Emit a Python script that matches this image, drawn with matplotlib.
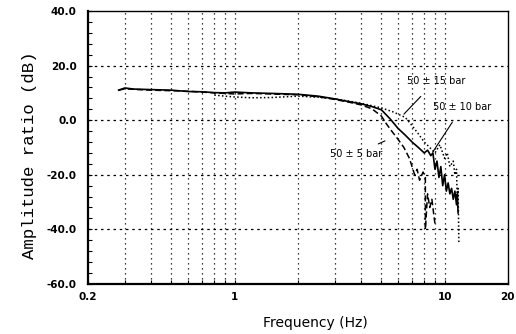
import matplotlib.pyplot as plt
from matplotlib.ticker import FixedLocator, MultipleLocator, NullFormatter, LogLocator
import numpy as np

# 数据
f_5 = [0.28, 0.3, 0.35, 0.4, 0.5, 0.6, 0.7, 0.8, 0.9, 1.0, 1.2, 1.5, 2.0, 2.5, 3.0, 3.5,
       4.0, 4.5, 5.0, 5.3, 5.6, 6.0, 6.4, 6.8, 7.0, 7.2, 7.4, 7.6, 7.9, 8.1, 8.1, 8.3, 8.5, 8.7, 9.0]
db_5 = [11.0, 11.5, 11.2, 11.0, 10.8, 10.6, 10.3, 10.0, 9.8, 9.6, 9.8, 9.6, 9.3, 8.6, 7.6, 6.6,
        5.6, 4.2, 1.5, -1.5, -4.0, -7.0, -10.0, -14.0, -17.0, -20.0, -18.0, -22.0, -19.0, -21.0, -40.0,
        -27.0, -32.0, -29.0, -38.0]

f_10 = [0.28, 0.3, 0.33, 0.4, 0.5, 0.6, 0.7, 0.8, 0.9, 1.0, 1.2, 1.5, 2.0, 2.5, 3.0, 3.5,
        4.0, 4.5, 5.0, 5.5, 6.0, 6.5, 7.0, 7.5, 8.0, 8.3, 8.6, 8.8, 9.0, 9.2, 9.4, 9.6, 9.8,
        10.0, 10.2, 10.4, 10.6, 10.8, 11.0, 11.2, 11.4, 11.5, 11.6]
db_10 = [11.0, 11.8, 11.4, 11.2, 11.0, 10.5, 10.4, 10.1, 10.0, 10.3, 10.0, 9.8, 9.5, 8.8, 7.8, 6.8,
         6.0, 5.0, 3.8, 0.5, -3.0, -5.5, -8.0, -10.0, -12.0, -11.0, -13.0, -12.0, -18.0, -15.0, -21.0, -17.0, -24.0,
         -20.0, -26.0, -23.0, -27.0, -25.0, -29.0, -26.0, -31.0, -27.0, -34.0]

f_15 = [0.8, 0.9, 1.0, 1.2, 1.5, 2.0, 2.5, 3.0, 3.5, 4.0, 5.0, 5.7, 6.5, 7.0, 7.5, 8.0,
        8.5, 9.0, 9.5, 10.0, 10.3, 10.6, 11.0, 11.2, 11.4, 11.5, 11.6, 11.7]
db_15 = [9.2, 8.8, 8.5, 8.2, 8.3, 8.8, 8.4, 7.8, 7.0, 6.2, 4.5, 3.0, 1.0, -2.0, -5.0, -8.0,
         -10.0, -12.0, -9.0, -14.0, -12.0, -17.0, -15.0, -20.0, -18.0, -30.0, -25.0, -45.0]

y_ticks = [40, 20, 0, -20, -40, -60]
y_ticklabels = ['40.0', '20.0', '0.0', '-20.0', '-40.0', '-60.0']
x_ticks = [0.2, 1, 10, 20]
x_ticklabels = ['0.2', '1', '10', '20']

fig = plt.figure(figsize=(5.16, 3.34), dpi=100)
ax = fig.add_axes([0.1705, 0.150, 0.8135, 0.817])

ax.set_xscale('log')
ax.set_xlim(0.2, 20)
ax.set_ylim(-60, 40)

# 网格
grid_x = [0.3, 0.4, 0.5, 0.6, 0.7, 0.8, 0.9, 1, 2, 3, 4, 5, 6, 7, 8, 9, 10]
for gx in grid_x:
    ax.axvline(gx, color='black', linestyle=(0, (1, 3)), linewidth=0.9, zorder=1)
for gy in [20, 0, -20, -40]:
    ax.axhline(gy, color='black', linestyle=(0, (2, 3)), linewidth=0.9, zorder=1)

# 曲线
ax.plot(f_5, db_5, color='black', linestyle=(0, (4, 2)), linewidth=1.1)
ax.plot(f_10, db_10, color='black', linestyle='-', linewidth=1.2)
ax.plot(f_15, db_15, color='black', linestyle=(0, (1, 1.5)), linewidth=1.1)

# 标注
ax.annotate('50 ± 15 bar', xy=(6.4, 2.2), xytext=(6.6, 14.5), fontsize=7,
            va='center', arrowprops=dict(arrowstyle='-', color='black', lw=0.8,
                                         shrinkA=8, shrinkB=0))
ax.annotate('50 ± 10 bar', xy=(8.8, -11.6), xytext=(8.8, 4.7), fontsize=7,
            va='center', arrowprops=dict(arrowstyle='-', color='black', lw=0.8,
                                         shrinkA=6, shrinkB=0))
ax.annotate('50 ± 5 bar', xy=(5.2, -7.6), xytext=(2.84, -12.4), fontsize=7,
            va='center', arrowprops=dict(arrowstyle='-', color='black', lw=0.8,
                                         shrinkA=4, shrinkB=0))

# 刻度
ax.yaxis.set_major_locator(FixedLocator(y_ticks))
ax.set_yticklabels(y_ticklabels, fontsize=7.5, fontweight='bold')
ax.yaxis.set_minor_locator(MultipleLocator(4))
ax.xaxis.set_major_locator(FixedLocator(x_ticks))
ax.set_xticklabels(x_ticklabels, fontsize=7.5, fontweight='bold')
ax.xaxis.set_minor_locator(LogLocator(base=10, subs=np.arange(2, 10)))
ax.xaxis.set_minor_formatter(NullFormatter())
ax.tick_params(which='both', direction='in', length=3, width=0.8)
ax.tick_params(axis='x', pad=6)
ax.tick_params(axis='y', pad=8)

for side in ['left', 'bottom']:
    ax.spines[side].set_linewidth(1.6)
for side in ['top', 'right']:
    ax.spines[side].set_linewidth(1.0)

fig.text(30 / 516, 1 - 155 / 334, 'Amplitude ratio (dB)', rotation=90,
         ha='center', va='center', fontsize=12.5, family='Liberation Mono')
fig.text(315 / 516, 1 - 323 / 334, 'Frequency (Hz)', ha='center', va='center',
         fontsize=10)

fig.savefig('out.png', dpi=100)
